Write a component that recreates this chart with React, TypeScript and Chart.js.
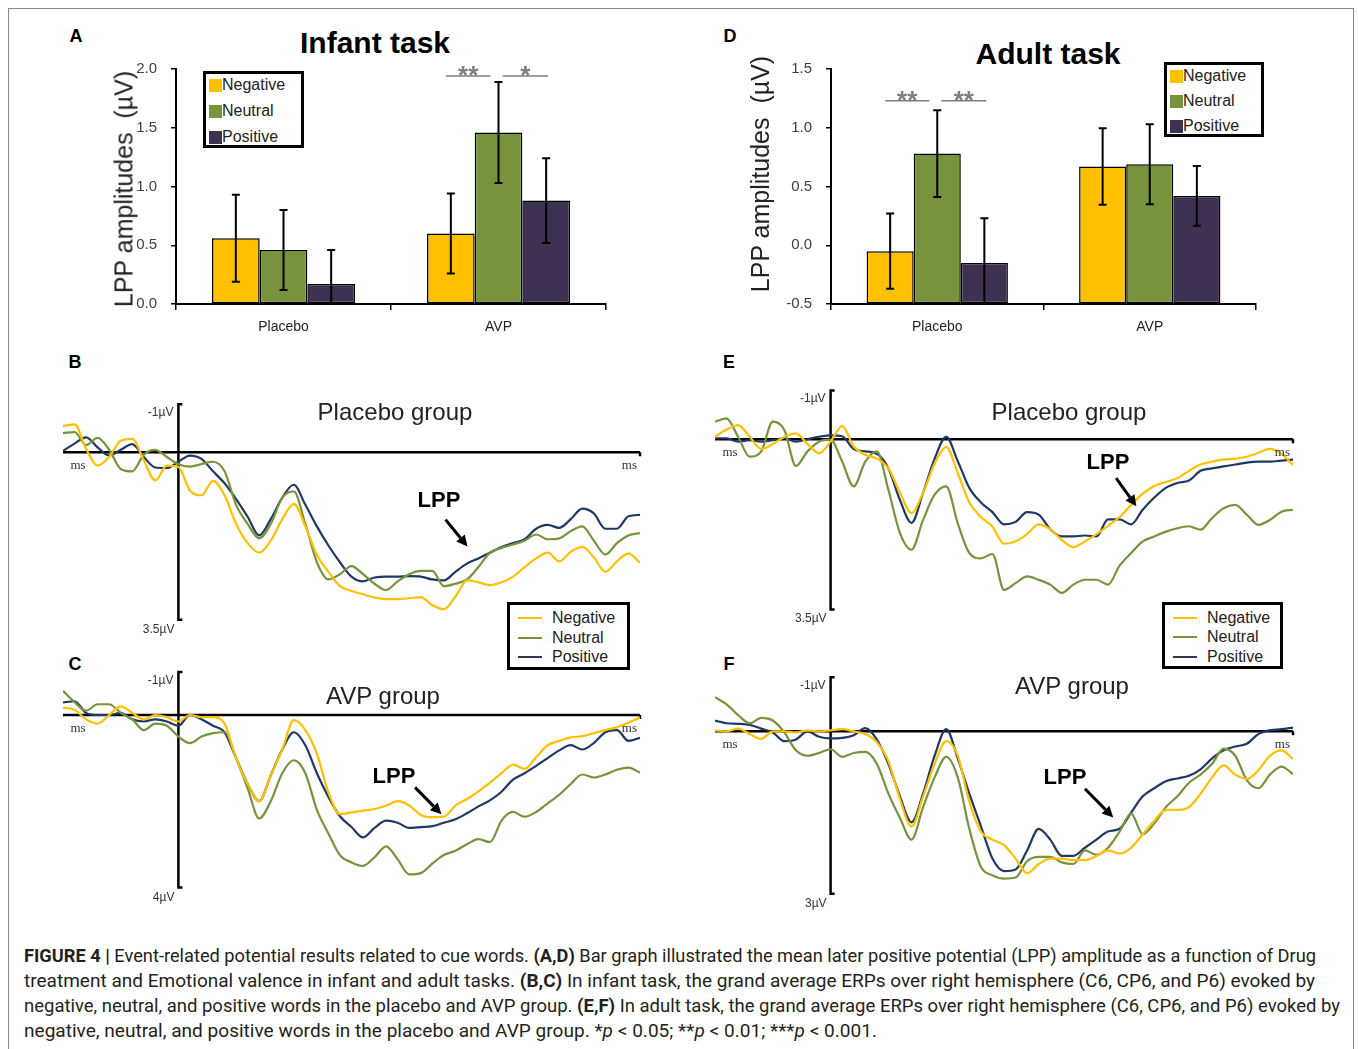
import React, { useEffect, useLayoutEffect, useRef } from "react";
import { Chart, registerables } from "chart.js";
Chart.register(...registerables);

const SANS = "'Liberation Sans', Arial, Helvetica, sans-serif";
const SERIF = "'Liberation Serif', 'Times New Roman', serif";

// ---------- bar chart data ----------
const conditions = ["Negative", "Neutral", "Positive"];
const drugGroups = ["Placebo", "AVP"];
const barColors = ["#FFC000", "#77933C", "#3F3151"];

const infantNegative = [0.56, 0.6];
const infantNeutral = [0.46, 1.46];
const infantPositive = [0.17, 0.88];
const infantNegativeErr = [0.37, 0.34];
const infantNeutralErr = [0.34, 0.43];
const infantPositiveErr = [0.29, 0.36];
const infantTicks = [0, 0.5, 1.0, 1.5, 2.0];
// [group index, condition a, condition b, label]
const infantSig: [number, number, number, string][] = [
  [1, 0, 1, "**"],
  [1, 1, 2, "*"],
];
const infantSigLevel = 1.94;

const adultNegative = [-0.05, 0.67];
const adultNeutral = [0.78, 0.69];
const adultPositive = [-0.15, 0.42];
const adultNegativeErr = [0.32, 0.325];
const adultNeutralErr = [0.37, 0.34];
const adultPositiveErr = [0.38, 0.255];
const adultTicks = [-0.5, 0, 0.5, 1.0, 1.5];
const adultSig: [number, number, number, string][] = [
  [0, 0, 1, "**"],
  [0, 1, 2, "**"],
];
const adultSigLevel = 1.23;

// ---------- ERP data (ms, µV; positive plotted downward) ----------
const erpTimes = [
  -200, -180, -160, -140, -120, -100, -80, -60, -40, -20,
  0, 20, 40, 60, 80, 100, 120, 140, 160, 180,
  200, 220, 240, 260, 280, 300, 320, 340, 360, 380,
  400, 420, 440, 460, 480, 500, 520, 540, 560, 580,
  600, 620, 640, 660, 680, 700, 720, 740, 760, 780,
  800,
];
const lineColors = ["#FFC000", "#77933C", "#1F3864"];

const infantPlaceboNegative = [
  -0.55, -0.58, -0.07, 0.28, 0.1, -0.24, -0.28, 0.17, 0.59, 0.28,
  0.31, 0.8, 0.9, 0.6, 0.9, 1.5, 1.9, 2.1, 1.85, 1.4,
  1.08, 1.55, 2.15, 2.5, 2.8, 2.9, 2.97, 3.04, 3.07, 3.07,
  3.05, 3.03, 3.2, 3.28, 3.02, 2.68, 2.72, 2.78, 2.72, 2.6,
  2.4, 2.22, 2.1, 2.28, 2.08, 1.98, 2.2, 2.5, 2.28, 2.12,
  2.31,
];
const infantPlaceboNeutral = [
  -0.4, -0.42, -0.15, -0.3, -0.05, 0.35, 0.4, 0.05, -0.05, 0.1,
  0.25, 0.3, 0.25, 0.2, 0.4, 1.1, 1.5, 1.8, 1.5, 0.95,
  0.82, 1.5, 2.3, 2.66, 2.55, 2.38, 2.55, 2.75, 2.88, 2.7,
  2.55, 2.48, 2.48, 2.8, 2.75, 2.66, 2.4, 2.1, 2.0, 1.93,
  1.85, 1.72, 1.82, 1.8, 1.65, 1.55, 1.85, 2.14, 1.9, 1.74,
  1.69,
];
const infantPlaceboPositive = [
  -0.03, -0.18, -0.31, -0.1, 0.07, -0.05, -0.17, 0.1, 0.32, 0.33,
  0.2, 0.07, 0.14, 0.4, 0.65, 0.98, 1.35, 1.74, 1.4, 0.95,
  0.68, 1.1, 1.55, 1.95, 2.3, 2.6, 2.7, 2.62, 2.6, 2.6,
  2.59, 2.6, 2.66, 2.68, 2.5, 2.33, 2.22, 2.1, 1.98, 1.9,
  1.82, 1.6, 1.52, 1.58, 1.4, 1.18, 1.28, 1.6, 1.6, 1.34,
  1.31,
];

const infantAvpNegative = [
  -0.17, -0.12, 0.1, 0.2, 0.0, -0.2, -0.05, 0.1, 0.0, 0.05,
  0.15, 0.0, 0.05, 0.05, 0.2, 1.0, 1.6, 2.0, 1.4, 0.8,
  0.12, 0.35, 0.9, 1.8, 2.3, 2.26, 2.22, 2.18, 2.1, 2.0,
  2.1, 2.32, 2.37, 2.36, 2.1, 1.95, 1.77, 1.57, 1.35, 1.15,
  1.25, 0.98, 0.7, 0.6, 0.52, 0.49, 0.42, 0.35, 0.28, 0.18,
  0.06,
];
const infantAvpNeutral = [
  -0.56, -0.3, -0.1, -0.25, -0.25, -0.05, 0.1, 0.35, 0.2, 0.25,
  0.5, 0.65, 0.5, 0.42, 0.4, 1.0, 1.7, 2.4, 2.0, 1.35,
  1.05, 1.35, 2.2, 2.75, 3.25, 3.42, 3.5, 3.3, 3.05, 3.35,
  3.7, 3.67, 3.45, 3.25, 3.15, 3.0, 2.88, 2.95, 2.45, 2.25,
  2.36, 2.25, 2.05, 1.85, 1.6, 1.38, 1.45, 1.38, 1.27, 1.22,
  1.34,
];
const infantAvpPositive = [
  -0.29, -0.32, -0.05, 0.0, 0.0, -0.05, 0.1, 0.15, 0.1, 0.15,
  0.25, 0.0, 0.1, 0.25, 0.4, 1.0, 1.6, 2.0, 1.4, 0.8,
  0.4, 0.7, 1.35, 1.9, 2.35, 2.6, 2.84, 2.62, 2.45, 2.5,
  2.62, 2.6, 2.58, 2.5, 2.42, 2.28, 2.12, 1.98, 1.78, 1.5,
  1.35, 1.18, 1.0, 0.82, 0.7, 0.8, 0.65, 0.4, 0.35, 0.6,
  0.53,
];

const adultPlaceboNegative = [
  -0.05, -0.2, -0.29, -0.05, 0.2, 0.1, -0.05, -0.12, 0.1, 0.29,
  0.05, -0.27, 0.15, 0.32, 0.4, 0.6, 1.1, 1.52, 1.1, 0.5,
  0.16, 0.7, 1.3, 1.6, 1.8, 2.15, 2.1, 1.95, 1.75, 1.85,
  2.07, 2.22, 2.1, 1.95, 1.78, 1.6, 1.35, 1.12, 0.96, 0.88,
  0.8, 0.65, 0.52, 0.46, 0.42, 0.4, 0.36, 0.28, 0.2, 0.3,
  0.53,
];
const adultPlaceboNeutral = [
  -0.36, -0.43, -0.05, 0.36, 0.25, -0.36, -0.19, 0.55, 0.25, 0.05,
  0.01, 0.46, 0.97, 0.46, 0.25, 1.04, 1.93, 2.27, 1.66, 1.14,
  0.97, 1.73, 2.34, 2.45, 2.36, 3.1, 2.96, 2.82, 2.89, 2.99,
  3.16, 2.99, 2.89, 2.89, 2.99, 2.6, 2.34, 2.1, 2.0, 1.9,
  1.83, 1.79, 1.86, 1.62, 1.42, 1.35, 1.55, 1.76, 1.66, 1.49,
  1.45,
];
const adultPlaceboPositive = [
  -0.02, -0.02, 0.05, 0.02, 0.05, 0.02, -0.02, 0.05, 0.0, -0.05,
  -0.08, -0.06, 0.2, 0.25, 0.3, 0.6, 1.25, 1.72, 1.1, 0.4,
  -0.05, 0.45, 1.0, 1.3, 1.5, 1.75, 1.7, 1.5, 1.55, 1.85,
  2.0, 2.0, 1.98, 2.0, 1.65, 1.65, 1.75, 1.45, 1.2, 1.0,
  0.9, 0.85, 0.65, 0.6, 0.56, 0.52, 0.48, 0.46, 0.46, 0.44,
  0.42,
];

const adultAvpNegative = [
  -0.02, 0.0, -0.05, 0.05, 0.14, 0.0, 0.0, 0.02, -0.02, 0.0,
  -0.02, -0.04, 0.0, 0.05, 0.2, 0.55, 1.25, 1.76, 1.2, 0.6,
  0.18, 0.45, 1.3, 1.85, 2.0, 2.1, 2.35, 2.62, 2.45, 2.35,
  2.35, 2.38, 2.38, 2.3, 2.2, 2.26, 2.15, 1.9, 1.65, 1.45,
  1.45, 1.4, 1.15, 0.85, 0.63, 0.8, 0.88, 0.72, 0.45, 0.35,
  0.51,
];
const adultAvpNeutral = [
  -0.63, -0.5, -0.3, -0.15, -0.25, -0.2, 0.02, 0.35, 0.45, 0.4,
  0.33, 0.47, 0.4, 0.38, 0.6, 1.15, 1.6, 2.0, 1.4, 0.85,
  0.47, 0.85, 1.8, 2.5, 2.66, 2.72, 2.7, 2.4, 2.32, 2.32,
  2.42, 2.45, 2.2, 2.28, 2.15, 1.85, 1.52, 1.9, 1.7, 1.4,
  1.2, 0.95, 0.8, 0.6, 0.32, 0.45, 0.9, 1.05, 0.8, 0.65,
  0.79,
];
const adultAvpPositive = [
  -0.2, -0.15, -0.14, -0.12, -0.05, 0.02, 0.18, 0.15, 0.0, 0.1,
  0.13, 0.12, 0.07, -0.06, 0.15, 0.6, 1.2, 1.68, 1.15, 0.45,
  -0.04, 0.5, 1.15, 1.75, 2.35, 2.58, 2.55, 2.2, 1.8, 2.0,
  2.3, 2.3, 2.15, 2.0, 1.85, 1.8, 1.5, 1.2, 1.05, 0.92,
  0.87, 0.82, 0.7, 0.5, 0.35, 0.28, 0.23, 0.05, -0.02, -0.04,
  -0.07,
];

// ---------- caption ----------
type Seg = { t: string; b?: boolean; i?: boolean };
const captionLines: Seg[][] = [
  [
    { t: "FIGURE 4 | ", b: true },
    { t: "Event-related potential results related to cue words. " },
    { t: "(A,D)", b: true },
    { t: " Bar graph illustrated the mean later positive potential (LPP) amplitude as a function of Drug" },
  ],
  [
    { t: "treatment and Emotional valence in infant and adult tasks. " },
    { t: "(B,C)", b: true },
    { t: " In infant task, the grand average ERPs over right hemisphere (C6, CP6, and P6) evoked by" },
  ],
  [
    { t: "negative, neutral, and positive words in the placebo and AVP group. " },
    { t: "(E,F)", b: true },
    { t: " In adult task, the grand average ERPs over right hemisphere (C6, CP6, and P6) evoked by" },
  ],
  [
    { t: "negative, neutral, and positive words in the placebo and AVP group. *" },
    { t: "p", i: true },
    { t: " < 0.05; **" },
    { t: "p", i: true },
    { t: " < 0.01; ***" },
    { t: "p", i: true },
    { t: " < 0.001." },
  ],
];
const captionWidths = [1292, 1291, 1316, 853];

// ---------- helpers ----------
function Txt(props: {
  x: number; y: number; children: React.ReactNode; size?: number; weight?: number;
  align?: "left" | "center" | "right"; family?: string; color?: string; style?: React.CSSProperties;
}) {
  const { x, y, children, size = 14, weight = 400, align = "left", family = SANS, color = "#000", style } = props;
  const tx = align === "center" ? "-50%" : align === "right" ? "-100%" : "0";
  return (
    <div
      style={{
        position: "absolute", left: x, top: y, transform: `translate(${tx},-50%)`,
        fontSize: size, fontWeight: weight, fontFamily: family, color, lineHeight: 1,
        whiteSpace: "pre", ...style,
      }}
    >
      {children}
    </div>
  );
}

type BarProps = {
  left: number; top: number; width: number; height: number;
  yAxisWidth: number; xAxisHeight: number; padTop: number; padRight: number;
  values: number[][]; errors: number[][]; yMin: number; yMax: number; ticks: number[];
  sig: [number, number, number, string][]; sigLevel: number;
};

function BarPanel(p: BarProps) {
  const ref = useRef<HTMLCanvasElement>(null);
  useEffect(() => {
    const errorBars = {
      id: "errorBars",
      afterDatasetsDraw(chart: any) {
        const { ctx, chartArea } = chart;
        const ys = chart.scales.y;
        ctx.save();
        ctx.beginPath();
        ctx.rect(chartArea.left, chartArea.top - 40, chartArea.right - chartArea.left, chartArea.bottom - chartArea.top + 40);
        ctx.clip();
        ctx.strokeStyle = "#000";
        ctx.lineWidth = 2;
        chart.data.datasets.forEach((ds: any, i: number) => {
          const meta = chart.getDatasetMeta(i);
          meta.data.forEach((bar: any, j: number) => {
            const v = ds.data[j];
            const e = ds.errors[j];
            const yt = ys.getPixelForValue(v + e);
            const yb = ys.getPixelForValue(v - e);
            ctx.beginPath();
            ctx.moveTo(bar.x, yt); ctx.lineTo(bar.x, yb);
            ctx.moveTo(bar.x - 4, yt); ctx.lineTo(bar.x + 4, yt);
            ctx.moveTo(bar.x - 4, yb); ctx.lineTo(bar.x + 4, yb);
            ctx.stroke();
          });
        });
        ctx.restore();
      },
    };
    const sigMarks = {
      id: "sigMarks",
      afterDatasetsDraw(chart: any) {
        const { ctx } = chart;
        const y = chart.scales.y.getPixelForValue(p.sigLevel);
        ctx.save();
        ctx.strokeStyle = "#7f7f7f";
        ctx.fillStyle = "#7f7f7f";
        ctx.lineWidth = 1.6;
        ctx.font = `bold 26px ${SANS}`;
        ctx.textAlign = "center";
        ctx.textBaseline = "alphabetic";
        p.sig.forEach(([g, a, b, label]) => {
          const xa = chart.getDatasetMeta(a).data[g].x;
          const xb = chart.getDatasetMeta(b).data[g].x;
          const l = xa + (a === 1 ? 4 : -5);
          const r = xb + (b === 1 ? -8 : 2);
          ctx.beginPath();
          ctx.moveTo(l, y); ctx.lineTo(r, y);
          ctx.stroke();
          ctx.fillText(label, (l + r) / 2, y + 8);
        });
        ctx.restore();
      },
    };
    const chart = new Chart(ref.current as HTMLCanvasElement, {
      type: "bar",
      data: {
        labels: drugGroups,
        datasets: conditions.map((c, i) => ({
          label: c,
          data: p.values[i],
          errors: p.errors[i],
          base: p.yMin,
          backgroundColor: barColors[i],
          borderColor: "#000",
          borderWidth: 1.5,
          borderSkipped: false,
          categoryPercentage: 0.665,
          barPercentage: 1,
        })) as any,
      },
      options: {
        animation: false,
        responsive: false,
        devicePixelRatio: 1,
        layout: { padding: { top: p.padTop, right: p.padRight, left: 0, bottom: 0 } },
        plugins: { legend: { display: false }, tooltip: { enabled: false } },
        scales: {
          x: {
            grid: { offset: true, drawOnChartArea: false, drawTicks: true, tickLength: 6, color: "#000", lineWidth: 1.5 },
            border: { display: true, color: "#000", width: 2 },
            ticks: { color: "#222", font: { family: SANS, size: 14 }, padding: 9 },
            afterFit: (s: any) => { s.height = p.xAxisHeight; },
          },
          y: {
            min: p.yMin,
            max: p.yMax,
            afterBuildTicks: (s: any) => { s.ticks = p.ticks.map((v) => ({ value: v })); },
            grid: { drawOnChartArea: false, drawTicks: true, tickLength: 5, color: "#000", lineWidth: 1.5 },
            border: { display: true, color: "#000", width: 2 },
            ticks: {
              color: "#404040", font: { family: SANS, size: 15 }, padding: 14,
              callback: (v: any) => Number(v).toFixed(1),
            },
            afterFit: (s: any) => { s.width = p.yAxisWidth; },
          },
        },
      } as any,
      plugins: [errorBars, sigMarks],
    });
    return () => chart.destroy();
  }, []);
  return (
    <canvas
      ref={ref}
      width={p.width}
      height={p.height}
      style={{ position: "absolute", left: p.left, top: p.top, width: p.width, height: p.height }}
    />
  );
}

type ErpBox = { xLeft: number; xRight: number; zeroY: number; ppu: number; vTop: number; vBottom: number; bracketBottom: number };

function ErpPanel(p: { box: ErpBox; series: number[][]; arrow: [number, number, number, number] }) {
  const ref = useRef<HTMLCanvasElement>(null);
  const PAD = 8;
  const { xLeft, xRight, zeroY, ppu, vTop, vBottom } = p.box;
  const areaTop = zeroY + vTop * ppu;
  const areaBottom = zeroY + vBottom * ppu;
  const cLeft = xLeft - PAD;
  const cTop = areaTop - PAD;
  const cW = xRight - xLeft + 2 * PAD;
  const cH = areaBottom - areaTop + 2 * PAD;
  useEffect(() => {
    const axes = {
      id: "erpAxes",
      beforeDatasetsDraw(chart: any) {
        const { ctx } = chart;
        const xs = chart.scales.x;
        const ys = chart.scales.y;
        const x0 = xs.getPixelForValue(0);
        const yz = ys.getPixelForValue(0);
        const l = xs.getPixelForValue(erpTimes[0]);
        const r = xs.getPixelForValue(erpTimes[erpTimes.length - 1]);
        const yt = ys.getPixelForValue(-1);
        const yb = ys.getPixelForValue(p.box.bracketBottom);
        ctx.save();
        ctx.strokeStyle = "#000";
        ctx.lineWidth = 2.5;
        ctx.beginPath();
        ctx.moveTo(l, yz); ctx.lineTo(r, yz);
        ctx.moveTo(r, yz); ctx.lineTo(r, yz + 4);
        ctx.stroke();
        ctx.beginPath();
        ctx.moveTo(x0 + 4, yt); ctx.lineTo(x0, yt); ctx.lineTo(x0, yb); ctx.lineTo(x0 + 4, yb);
        ctx.stroke();
        ctx.restore();
      },
    };
    const arrow = {
      id: "lppArrow",
      afterDatasetsDraw(chart: any) {
        const { ctx } = chart;
        const xs = chart.scales.x;
        const ys = chart.scales.y;
        const [t1, v1, t2, v2] = p.arrow;
        const x1 = xs.getPixelForValue(t1), y1 = ys.getPixelForValue(v1);
        const x2 = xs.getPixelForValue(t2), y2 = ys.getPixelForValue(v2);
        const ang = Math.atan2(y2 - y1, x2 - x1);
        const hl = 11, hw = 5.5;
        const bx = x2 - hl * Math.cos(ang), by = y2 - hl * Math.sin(ang);
        ctx.save();
        ctx.strokeStyle = "#000";
        ctx.fillStyle = "#000";
        ctx.lineWidth = 3;
        ctx.beginPath();
        ctx.moveTo(x1, y1); ctx.lineTo(bx, by);
        ctx.stroke();
        ctx.beginPath();
        ctx.moveTo(x2, y2);
        ctx.lineTo(bx + hw * Math.sin(ang), by - hw * Math.cos(ang));
        ctx.lineTo(bx - hw * Math.sin(ang), by + hw * Math.cos(ang));
        ctx.closePath();
        ctx.fill();
        ctx.restore();
      },
    };
    const chart = new Chart(ref.current as HTMLCanvasElement, {
      type: "line",
      data: {
        datasets: p.series.map((vals, i) => ({
          label: conditions[i],
          data: erpTimes.map((t, k) => ({ x: t, y: vals[k] })),
          borderColor: lineColors[i],
          borderWidth: 2.2,
          pointRadius: 0,
          fill: false,
          cubicInterpolationMode: "monotone",
        })) as any,
      },
      options: {
        animation: false,
        responsive: false,
        devicePixelRatio: 1,
        layout: { padding: PAD },
        plugins: { legend: { display: false }, tooltip: { enabled: false } },
        scales: {
          x: { type: "linear", min: erpTimes[0], max: erpTimes[erpTimes.length - 1], display: false },
          y: { min: vTop, max: vBottom, reverse: true, display: false },
        },
      } as any,
      plugins: [axes, arrow],
    });
    return () => chart.destroy();
  }, []);
  return (
    <canvas
      ref={ref}
      width={cW}
      height={cH}
      style={{ position: "absolute", left: cLeft, top: cTop, width: cW, height: cH }}
    />
  );
}

function ErpLabels({ box, bottomLabel }: { box: ErpBox; bottomLabel: string }) {
  const axisX = box.xLeft + ((0 - erpTimes[0]) / (erpTimes[erpTimes.length - 1] - erpTimes[0])) * (box.xRight - box.xLeft);
  const yTop = box.zeroY - box.ppu;
  const yBot = box.zeroY + box.bracketBottom * box.ppu;
  return (
    <>
      <Txt x={axisX - 5} y={yTop + 8} size={12} align="right" color="#333">-1µV</Txt>
      <Txt x={axisX - 4} y={yBot + 9} size={12} align="right" color="#333">{bottomLabel}</Txt>
      <Txt x={box.xLeft + 15} y={box.zeroY + 12} size={13} align="center" family={SERIF} color="#333">ms</Txt>
      <Txt x={box.xRight - 3} y={box.zeroY + 12} size={13} align="right" family={SERIF} color="#333">ms</Txt>
    </>
  );
}

function BarLegend({ left, top, width, height, rows }: { left: number; top: number; width: number; height: number; rows: number[] }) {
  return (
    <div style={{ position: "absolute", left, top, width, height, boxSizing: "border-box", border: "3px solid #000", background: "#fff" }}>
      {conditions.map((c, i) => (
        <React.Fragment key={c}>
          <div style={{ position: "absolute", left: 3, top: rows[i] - 3 - 6.5, width: 13, height: 13, background: barColors[i] }} />
          <Txt x={16} y={rows[i] - 3} size={16} color="#222">{c}</Txt>
        </React.Fragment>
      ))}
    </div>
  );
}

function LineLegend({ left, top, width, height, rows }: { left: number; top: number; width: number; height: number; rows: number[] }) {
  return (
    <div style={{ position: "absolute", left, top, width, height, boxSizing: "border-box", border: "3px solid #000", background: "#fff" }}>
      {conditions.map((c, i) => (
        <React.Fragment key={c}>
          <div style={{ position: "absolute", left: 8, top: rows[i] - 3 - 1.25, width: 24, height: 2.5, background: i === 2 ? "#403152" : lineColors[i] }} />
          <Txt x={42} y={rows[i] - 3} size={16} color="#222">{c}</Txt>
        </React.Fragment>
      ))}
    </div>
  );
}

function Caption() {
  const refs = useRef<(HTMLDivElement | null)[]>([]);
  useLayoutEffect(() => {
    const fit = () => {
      refs.current.forEach((el, i) => {
        if (!el) return;
        el.style.transform = "none";
        const w = el.getBoundingClientRect().width;
        if (w > 0) el.style.transform = `scaleX(${captionWidths[i] / w})`;
      });
    };
    fit();
    if ((document as any).fonts && (document as any).fonts.ready) (document as any).fonts.ready.then(fit);
  }, []);
  const ys = [956, 981, 1006, 1031];
  return (
    <>
      {captionLines.map((line, i) => (
        <div
          key={i}
          ref={(el) => { refs.current[i] = el; }}
          style={{
            position: "absolute", left: 24, top: ys[i] - 11, whiteSpace: "pre", fontFamily: "Roboto, " + SANS,
            fontSize: 17.5, lineHeight: "22px", color: "#231F20", transformOrigin: "0 50%", display: "inline-block",
          }}
        >
          {line.map((s, k) => (
            <span key={k} style={{ fontWeight: s.b ? 700 : 400, fontStyle: s.i ? "italic" : "normal" }}>{s.t}</span>
          ))}
        </div>
      ))}
    </>
  );
}

const boxB: ErpBox = { xLeft: 63, xRight: 640, zeroY: 452, ppu: 48, vTop: -1.3, vBottom: 3.8, bracketBottom: 3.5 };
const boxC: ErpBox = { xLeft: 63, xRight: 640, zeroY: 715, ppu: 43.2, vTop: -1.3, vBottom: 4.2, bracketBottom: 4 };
const boxE: ErpBox = { xLeft: 715, xRight: 1293, zeroY: 439, ppu: 48.7, vTop: -1.3, vBottom: 3.8, bracketBottom: 3.5 };
const boxF: ErpBox = { xLeft: 715, xRight: 1293, zeroY: 731, ppu: 54.2, vTop: -1.3, vBottom: 3.3, bracketBottom: 3 };

export default function App() {
  return (
    <div style={{ position: "absolute", left: 0, top: 0, width: 1358, height: 1049, overflow: "hidden", background: "#fff" }}>
      <div style={{ position: "absolute", left: 8, top: 8, width: 1346, height: 1100, border: "1px solid #8a8a8a", boxSizing: "border-box" }} />

      {/* Panel A */}
      <Txt x={76} y={36} size={18} weight={700} align="center">A</Txt>
      <Txt x={375} y={43} size={30} weight={700} align="center">Infant task</Txt>
      <BarPanel
        left={60} top={20} width={560} height={330}
        yAxisWidth={116} xAxisHeight={46} padTop={49} padRight={14}
        values={[infantNegative, infantNeutral, infantPositive]}
        errors={[infantNegativeErr, infantNeutralErr, infantPositiveErr]}
        yMin={0} yMax={2} ticks={infantTicks} sig={infantSig} sigLevel={infantSigLevel}
      />
      <Txt x={124} y={189} size={25} align="center" color="#222" style={{ transform: "translate(-50%,-50%) rotate(-90deg)" }}>LPP amplitudes  (µV)</Txt>
      <BarLegend left={203} top={71} width={101} height={77} rows={[14, 40, 66]} />

      {/* Panel D */}
      <Txt x={730} y={36} size={18} weight={700} align="center">D</Txt>
      <Txt x={1048} y={54} size={30} weight={700} align="center">Adult task</Txt>
      <BarPanel
        left={700} top={20} width={580} height={330}
        yAxisWidth={131} xAxisHeight={46} padTop={49} padRight={24}
        values={[adultNegative, adultNeutral, adultPositive]}
        errors={[adultNegativeErr, adultNeutralErr, adultPositiveErr]}
        yMin={-0.5} yMax={1.5} ticks={adultTicks} sig={adultSig} sigLevel={adultSigLevel}
      />
      <Txt x={760} y={174} size={25} align="center" color="#222" style={{ transform: "translate(-50%,-50%) rotate(-90deg)" }}>LPP amplitudes  (µV)</Txt>
      <BarLegend left={1164} top={62} width={100} height={75} rows={[14, 39, 64]} />

      {/* Panel B */}
      <Txt x={75} y={362} size={18} weight={700} align="center">B</Txt>
      <ErpPanel box={boxB} series={[infantPlaceboNegative, infantPlaceboNeutral, infantPlaceboPositive]} arrow={[463, 1.41, 501, 1.97]} />
      <ErpLabels box={boxB} bottomLabel="3.5µV" />
      <Txt x={395} y={412} size={24} align="center" color="#222">Placebo group</Txt>
      <Txt x={439} y={500} size={22} weight={700} align="center">LPP</Txt>
      <LineLegend left={507} top={602} width={123} height={68} rows={[16, 36, 55]} />

      {/* Panel C */}
      <Txt x={75} y={664} size={18} weight={700} align="center">C</Txt>
      <ErpPanel box={boxC} series={[infantAvpNegative, infantAvpNeutral, infantAvpPositive]} arrow={[410, 1.68, 456, 2.3]} />
      <ErpLabels box={boxC} bottomLabel="4µV" />
      <Txt x={383} y={696} size={24} align="center" color="#222">AVP group</Txt>
      <Txt x={394} y={776} size={22} weight={700} align="center">LPP</Txt>

      {/* Panel E */}
      <Txt x={729} y={362} size={18} weight={700} align="center">E</Txt>
      <ErpPanel box={boxE} series={[adultPlaceboNegative, adultPlaceboNeutral, adultPlaceboPositive]} arrow={[494, 0.8, 529, 1.38]} />
      <ErpLabels box={boxE} bottomLabel="3.5µV" />
      <Txt x={1069} y={412} size={24} align="center" color="#222">Placebo group</Txt>
      <Txt x={1108} y={462} size={22} weight={700} align="center">LPP</Txt>
      <LineLegend left={1162} top={602} width={121} height={67} rows={[16, 35, 55]} />

      {/* Panel F */}
      <Txt x={729} y={664} size={18} weight={700} align="center">F</Txt>
      <ErpPanel box={boxF} series={[adultAvpNegative, adultAvpNeutral, adultAvpPositive]} arrow={[440, 1.06, 489, 1.59]} />
      <ErpLabels box={boxF} bottomLabel="3µV" />
      <Txt x={1072} y={686} size={24} align="center" color="#222">AVP group</Txt>
      <Txt x={1065} y={777} size={22} weight={700} align="center">LPP</Txt>

      <Caption />
    </div>
  );
}
